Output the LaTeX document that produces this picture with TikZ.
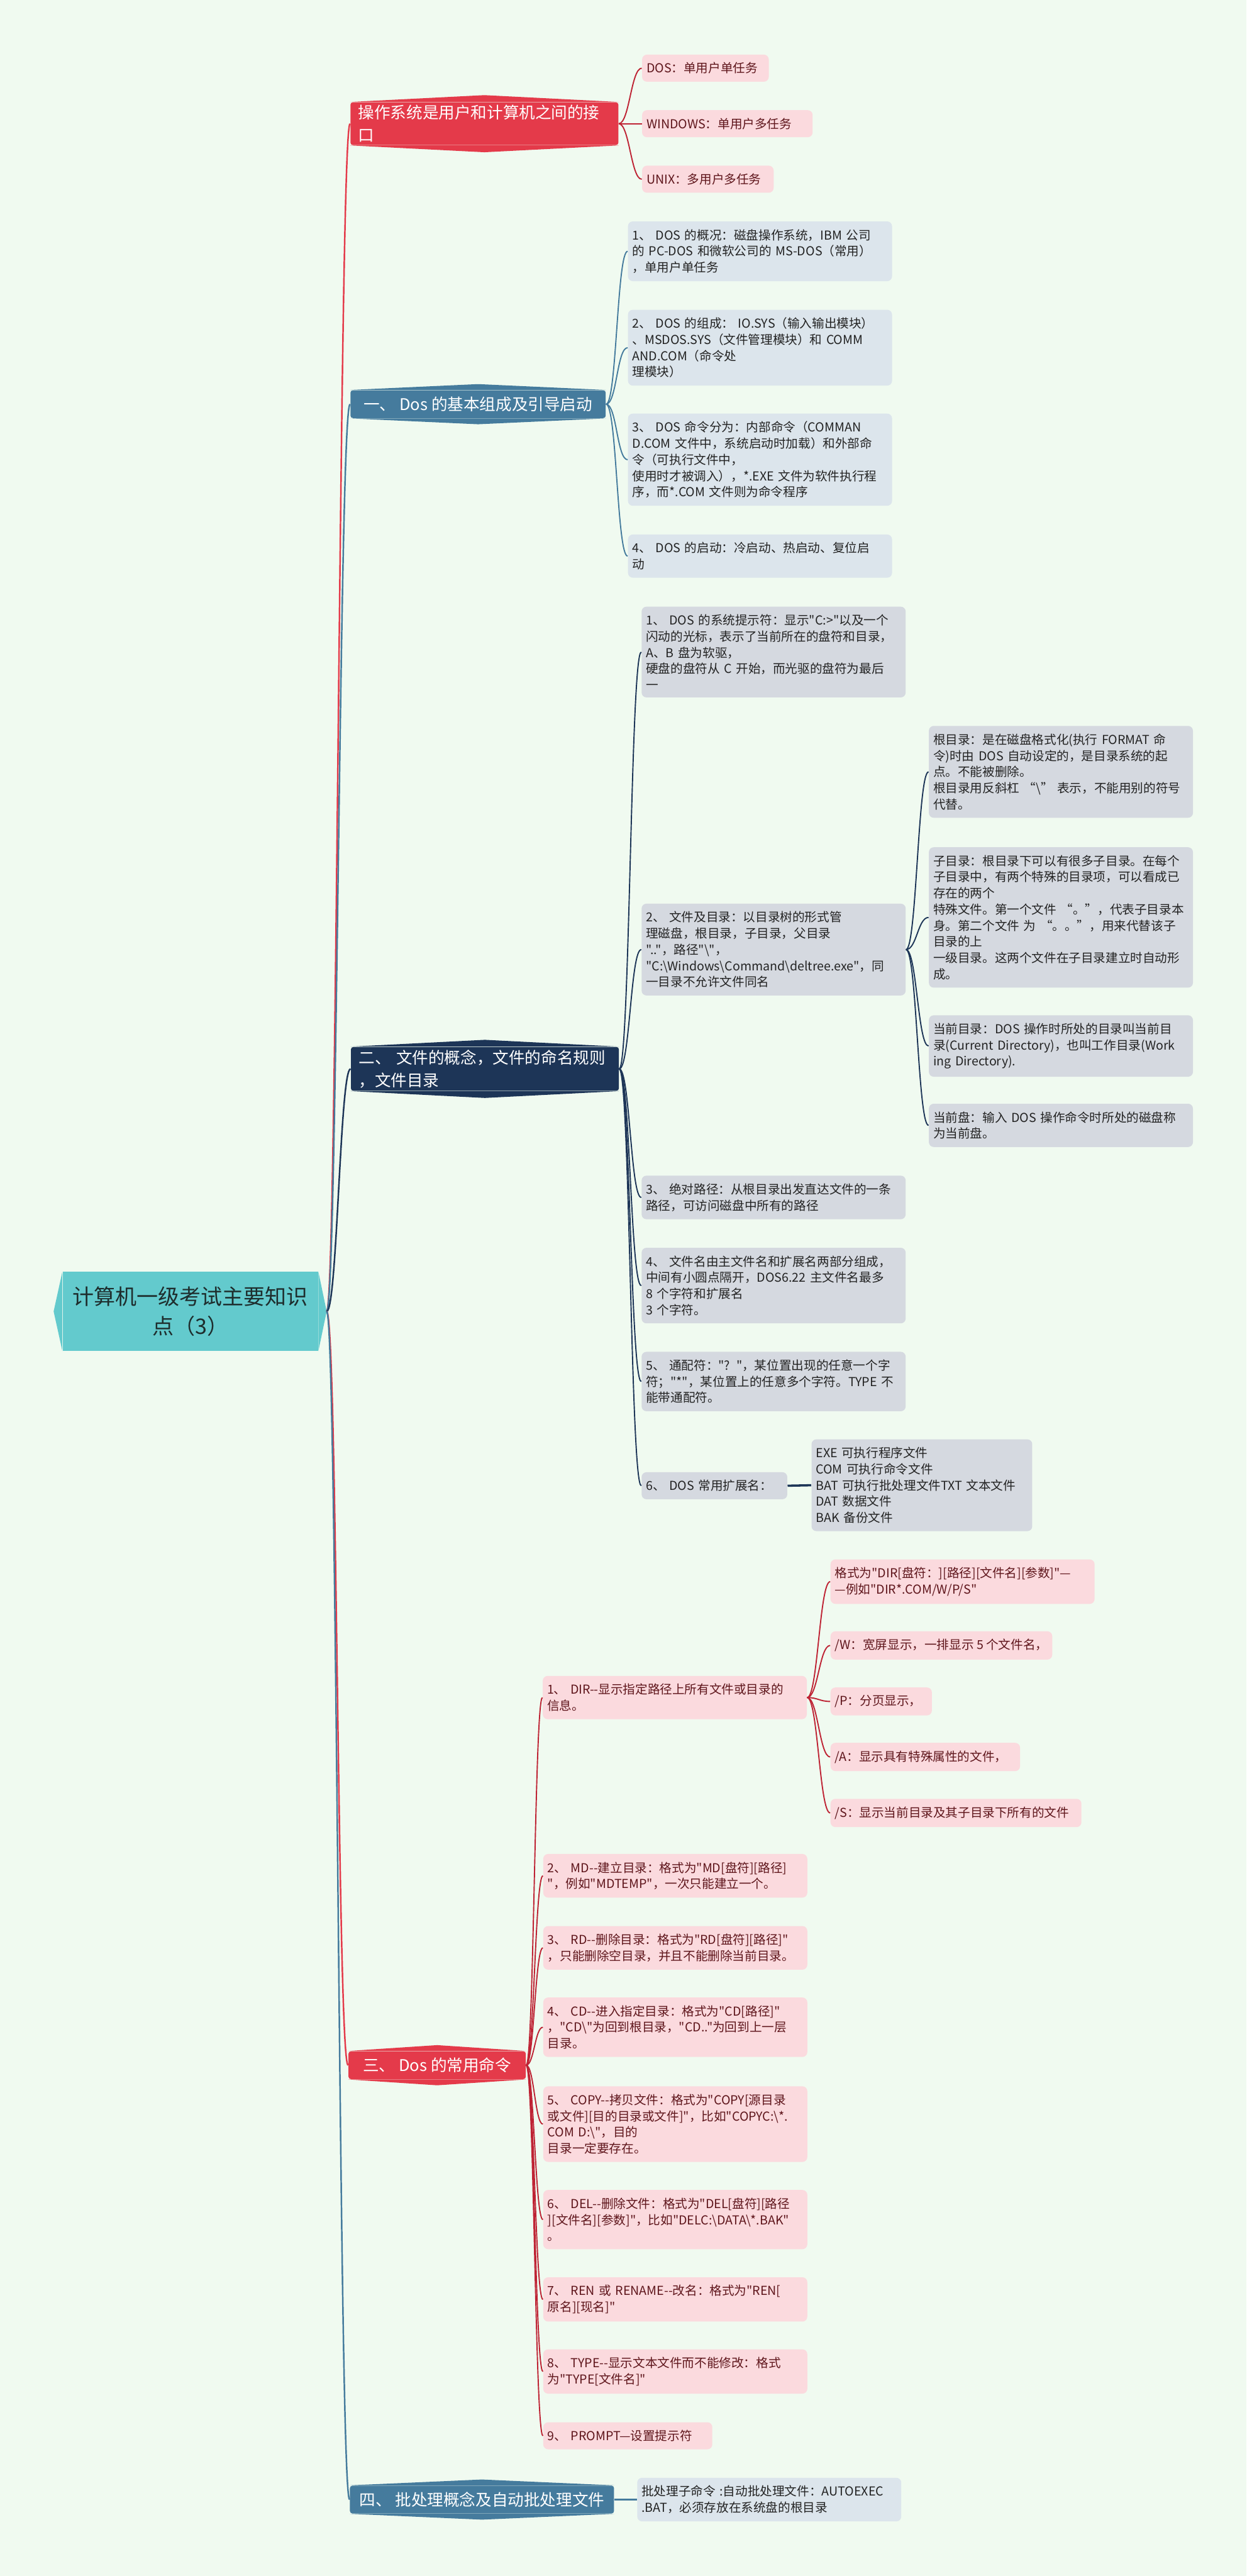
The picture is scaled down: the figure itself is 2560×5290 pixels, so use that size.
\documentclass[tikz,border=0pt]{standalone}
\usepackage{fontspec}
\newfontfamily\cjk{Noto Sans CJK SC}
\usetikzlibrary{calc}

\definecolor{bgmint}{RGB}{240,250,240}
\definecolor{rootteal}{RGB}{99,202,205}
\definecolor{rootink}{RGB}{30,45,45}
\definecolor{redmain}{RGB}{228,58,74}
\definecolor{steel}{RGB}{69,123,157}
\definecolor{navy}{RGB}{29,53,87}
\definecolor{pinkfill}{RGB}{251,218,222}
\definecolor{pinkink}{RGB}{95,22,28}
\definecolor{redtwig}{RGB}{190,35,52}
\definecolor{bluefill}{RGB}{220,229,236}
\definecolor{grayfill}{RGB}{213,217,224}
\definecolor{darkink}{RGB}{35,35,35}

\newcommand\kidsize{\cjk\fontsize{7.2pt}{9.45pt}\selectfont}
\newcommand\mainsize{\cjk\fontsize{9.4pt}{13.1pt}\selectfont}
\newcommand\rootsize{\cjk\fontsize{12.5pt}{17.4pt}\selectfont}

\newcommand\peaks[3]{%
  \fill[#2] (#1.north west) -- ($(#1.north)+(0,-#3)$) -- (#1.north east) -- cycle;
  \fill[#2] (#1.south west) -- ($(#1.south)+(0,#3)$) -- (#1.south east) -- cycle;
}

\begin{document}
\begin{tikzpicture}[%
  x=0.01cm, y=-0.01cm,
  mainbox/.style = {anchor=west, rounded corners=0.05cm, text=white, font=\mainsize,
    inner xsep=0.16cm, inner ysep=0.06cm, minimum height=0.57cm},
  kid/.style = {anchor=west, rounded corners=0.1cm, font=\kidsize,
    inner xsep=0.09cm, inner ysep=0.16cm, align=left},
  kidpink/.style = {kid, fill=pinkfill, text=pinkink},
  kidblue/.style = {kid, fill=bluefill, text=darkink},
  kidgray/.style = {kid, fill=grayfill, text=darkink},
  wide/.style = {text width=5.24cm},
  trunk/.style = {line width=0.9pt},
  twig/.style = {line width=0.7pt},
]
  \useasboundingbox (0,0) rectangle (2560,5290);
  \fill[bgmint] (0,0) rectangle (2560,5290);

  \node[fill=rootteal, text=rootink, font=\rootsize, align=center,
    minimum width=5.24cm, minimum height=1.62cm, inner sep=0] (root) at (391,2693)
    {计算机一级考试主要知识\\点（3）};
  \fill[rootteal] (root.north west) -- ($(root.west)+(-18,0)$) -- (root.south west) -- cycle;
  \fill[rootteal] (root.north east) -- ($(root.east)+(17,0)$) -- (root.south east) -- cycle;
  \coordinate (tip) at ($(root.east)+(17,0)$);

  \node[mainbox, fill=redmain, text width=5.18cm, align=left] (M1) at (719,254)
    {操作系统是用户和计算机之间的接\\口};
  \peaks{M1}{redmain}{14}
  \node[mainbox, fill=steel, minimum width=5.24cm] (M2) at (719,830)
    {一、 Dos 的基本组成及引导启动};
  \peaks{M2}{steel}{12}
  \node[mainbox, fill=navy, text width=5.18cm, align=left] (M3) at (720,2195)
    {二、 文件的概念，文件的命名规则\\，文件目录};
  \peaks{M3}{navy}{14}
  \node[mainbox, fill=redmain, minimum width=3.64cm] (M4) at (715,4241)
    {三、 Dos 的常用命令};
  \peaks{M4}{redmain}{12}
  \node[mainbox, fill=steel, minimum width=5.42cm] (M5) at (718,5133)
    {四、 批处理概念及自动批处理文件};
  \peaks{M5}{steel}{12}

  \node[kidpink, text width=2.42cm] (b1) at (1318,140) {DOS：单用户单任务};
  \node[kidpink, text width=3.32cm] (b2) at (1318,254) {WINDOWS：单用户多任务};
  \node[kidpink, text width=2.52cm] (b3) at (1318,368) {UNIX：多用户多任务};

  \node[kidblue, wide] (a1) at (1289,516)
    {1、 DOS 的概况：磁盘操作系统，IBM 公司\\的 PC-DOS 和微软公司的 MS-DOS（常用）\\，单用户单任务};
  \node[kidblue, wide] (a2) at (1289,714)
    {2、 DOS 的组成： IO.SYS（输入输出模块）\\、MSDOS.SYS（文件管理模块）和 COMM\\AND.COM（命令处\\理模块）};
  \node[kidblue, wide] (a3) at (1289,944)
    {3、 DOS 命令分为：内部命令（COMMAN\\D.COM 文件中，系统启动时加载）和外部命\\令（可执行文件中，\\使用时才被调入），*.EXE 文件为软件执行程\\序，而*.COM 文件则为命令程序};
  \node[kidblue, wide] (a4) at (1289,1142)
    {4、 DOS 的启动：冷启动、热启动、复位启\\动};

  \node[kidgray, wide] (c1) at (1317,1339)
    {1、 DOS 的系统提示符：显示"C:>"以及一个\\闪动的光标，表示了当前所在的盘符和目录，\\A、B 盘为软驱，\\硬盘的盘符从 C 开始，而光驱的盘符为最后\\一};
  \node[kidgray, wide] (c2) at (1317,1950)
    {2、 文件及目录：以目录树的形式管\\理磁盘，根目录，子目录，父目录\\".."，路径"\textbackslash"，\\"C:\textbackslash Windows\textbackslash Command\textbackslash deltree.exe"，同\\一目录不允许文件同名};
  \node[kidgray, wide] (c3) at (1317,2459)
    {3、 绝对路径：从根目录出发直达文件的一条\\路径，可访问磁盘中所有的路径};
  \node[kidgray, wide] (c4) at (1317,2640)
    {4、 文件名由主文件名和扩展名两部分组成，\\中间有小圆点隔开，DOS6.22 主文件名最多\\8 个字符和扩展名\\3 个字符。};
  \node[kidgray, wide] (c5) at (1317,2837)
    {5、 通配符："? "，某位置出现的任意一个字\\符；"*"，某位置上的任意多个字符。TYPE 不\\能带通配符。};
  \node[kidgray, text width=2.81cm] (c6) at (1317,3051) {6、 DOS 常用扩展名：};
  \node[kidgray, text width=4.35cm] (ext) at (1666,3050)
    {EXE 可执行程序文件\\COM 可执行命令文件\\BAT 可执行批处理文件TXT 文本文件\\DAT 数据文件\\BAK 备份文件};

  \node[kidgray, wide] (d1) at (1907,1585)
    {根目录：是在磁盘格式化(执行 FORMAT 命\\令)时由 DOS 自动设定的，是目录系统的起\\点。不能被删除。\\根目录用反斜杠 “\textbackslash” 表示，不能用别的符号\\代替。};
  \node[kidgray, wide] (d2) at (1907,1884)
    {子目录：根目录下可以有很多子目录。在每个\\子目录中，有两个特殊的目录项，可以看成已\\存在的两个\\特殊文件。第一个文件 “。”，代表子目录本\\身。第二个文件 为 “。。”，用来代替该子\\目录的上\\一级目录。这两个文件在子目录建立时自动形\\成。};
  \node[kidgray, wide] (d3) at (1907,2148)
    {当前目录：DOS 操作时所处的目录叫当前目\\录(Current Directory)，也叫工作目录(Work\\ing Directory).};
  \node[kidgray, wide] (d4) at (1907,2311)
    {当前盘：输入 DOS 操作命令时所处的磁盘称\\为当前盘。};

  \node[kidpink, wide] (e1) at (1114,3486)
    {1、 DIR-{}-显示指定路径上所有文件或目录的\\信息。};
  \node[kidpink, wide] (e2) at (1115,3852)
    {2、 MD-{}-建立目录：格式为"MD[盘符][路径]\\"，例如"MDTEMP"，一次只能建立一个。};
  \node[kidpink, wide] (e3) at (1115,4000)
    {3、 RD-{}-删除目录：格式为"RD[盘符][路径]"\\，只能删除空目录，并且不能删除当前目录。};
  \node[kidpink, wide] (e4) at (1115,4163)
    {4、 CD-{}-进入指定目录：格式为"CD[路径]"\\，"CD\textbackslash"为回到根目录，"CD.."为回到上一层\\目录。};
  \node[kidpink, wide] (e5) at (1115,4362)
    {5、 COPY-{}-拷贝文件：格式为"COPY[源目录\\或文件][目的目录或文件]"，比如"COPYC:\textbackslash*.\\COM D:\textbackslash"，目的\\目录一定要存在。};
  \node[kidpink, wide] (e6) at (1115,4558)
    {6、 DEL-{}-删除文件：格式为"DEL[盘符][路径\\][文件名][参数]"，比如"DELC:\textbackslash DATA\textbackslash*.BAK"\\。};
  \node[kidpink, wide] (e7) at (1115,4722)
    {7、 REN 或 RENAME-{}-改名：格式为"REN[\\原名][现名]"};
  \node[kidpink, wide] (e8) at (1115,4870)
    {8、 TYPE-{}-显示文本文件而不能修改：格式\\为"TYPE[文件名]"};
  \node[kidpink, text width=3.29cm] (e9) at (1115,5002) {9、 PROMPT—设置提示符};

  \node[kidpink, wide] (f1) at (1705,3248)
    {格式为"DIR[盘符：][路径][文件名][参数]"—\\—例如"DIR*.COM/W/P/S"};
  \node[kidpink] (f2) at (1705,3379) {/W：宽屏显示，一排显示 5 个文件名，};
  \node[kidpink, text width=1.9cm] (f3) at (1705,3494) {/P：分页显示，};
  \node[kidpink, text width=3.71cm] (f4) at (1705,3608) {/A：显示具有特殊属性的文件，};
  \node[kidpink, text width=4.97cm] (f5) at (1705,3723) {/S：显示当前目录及其子目录下所有的文件};

  \node[kidblue, wide] (g1) at (1308,5133)
    {批处理子命令 :自动批处理文件：AUTOEXEC\\.BAT，必须存放在系统盘的根目录};

  \foreach \m/\c in {M1/redmain,M2/steel,M3/navy,M4/redmain,M5/steel}
    \draw[trunk, draw=\c] (tip) .. controls +(22,0) and +(-22,0) .. (\m.west);

  \foreach \k in {b1,b2,b3}
    \draw[twig, draw=redtwig] (M1.east) .. controls +(22,0) and +(-22,0) .. (\k.west);
  \foreach \k in {a1,a2,a3,a4}
    \draw[twig, draw=steel] (M2.east) .. controls +(22,0) and +(-22,0) .. (\k.west);
  \foreach \k in {c1,c2,c3,c4,c5,c6}
    \draw[twig, draw=navy] (M3.east) .. controls +(22,0) and +(-22,0) .. (\k.west);
  \foreach \k in {d1,d2,d3,d4}
    \draw[twig, draw=navy] (c2.east) .. controls +(22,0) and +(-22,0) .. (\k.west);
  \foreach \k in {e1,e2,e3,e4,e5,e6,e7,e8,e9}
    \draw[twig, draw=redtwig] (M4.east) .. controls +(16,0) and +(-16,0) .. (\k.west);
  \foreach \k in {f1,f2,f3,f4,f5}
    \draw[twig, draw=redtwig] (e1.east) .. controls +(22,0) and +(-22,0) .. (\k.west);
  \draw[line width=1.3pt, navy] (c6.east) -- (ext.west);
  \draw[line width=1.3pt, steel] (M5.east) -- (g1.west);
\end{tikzpicture}
\end{document}
